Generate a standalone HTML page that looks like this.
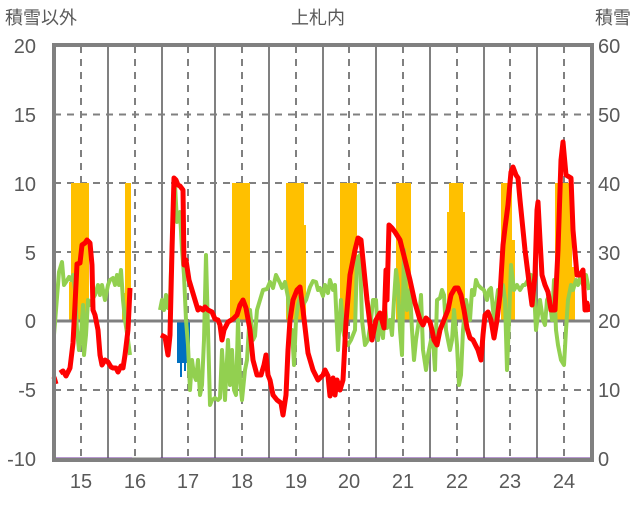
<!DOCTYPE html>
<html><head><meta charset="utf-8"><style>
body{margin:0;background:#fff;width:636px;height:501px;overflow:hidden}
svg text{font-family:"Liberation Sans","Noto Sans CJK JP",sans-serif;fill:#595959}
</style></head><body>
<svg width="636" height="501" xmlns="http://www.w3.org/2000/svg">
<g font-size="18">
<text x="5" y="24">積雪以外</text>
<text x="318" y="24" text-anchor="middle">上札内</text>
<text x="631" y="24" text-anchor="end">積雪</text>
</g>
<g font-size="20" text-anchor="end">
<text x="36" y="53">20</text><text x="36" y="122">15</text><text x="36" y="191">10</text>
<text x="36" y="260">5</text><text x="36" y="328">0</text><text x="36" y="397">-5</text><text x="36" y="466">-10</text>
</g>
<g font-size="20">
<text x="598" y="53">60</text><text x="598" y="122">50</text><text x="598" y="191">40</text>
<text x="598" y="260">30</text><text x="598" y="328">20</text><text x="598" y="397">10</text><text x="598" y="466">0</text>
</g>
<g font-size="20" text-anchor="middle">
<text x="81" y="488">15</text><text x="135" y="488">16</text><text x="188" y="488">17</text><text x="242" y="488">18</text><text x="296" y="488">19</text><text x="349" y="488">20</text><text x="403" y="488">21</text><text x="457" y="488">22</text><text x="510" y="488">23</text><text x="564" y="488">24</text>
</g>
<g stroke="#808080" stroke-width="2" stroke-dasharray="7,6">
<line x1="54" y1="114.5" x2="592" y2="114.5"/><line x1="54" y1="183" x2="592" y2="183"/><line x1="54" y1="252" x2="592" y2="252"/><line x1="54" y1="390" x2="592" y2="390"/>
<line x1="81" y1="46" x2="81" y2="459"/><line x1="135" y1="46" x2="135" y2="459"/><line x1="188" y1="46" x2="188" y2="459"/><line x1="242" y1="46" x2="242" y2="459"/><line x1="296" y1="46" x2="296" y2="459"/><line x1="349" y1="46" x2="349" y2="459"/><line x1="403" y1="46" x2="403" y2="459"/><line x1="457" y1="46" x2="457" y2="459"/><line x1="510" y1="46" x2="510" y2="459"/><line x1="564" y1="46" x2="564" y2="459"/>
</g>
<g stroke="#808080" stroke-width="2">
<line x1="108" y1="46" x2="108" y2="459"/><line x1="162" y1="46" x2="162" y2="459"/><line x1="215" y1="46" x2="215" y2="459"/><line x1="269" y1="46" x2="269" y2="459"/><line x1="323" y1="46" x2="323" y2="459"/><line x1="376" y1="46" x2="376" y2="459"/><line x1="430" y1="46" x2="430" y2="459"/><line x1="484" y1="46" x2="484" y2="459"/><line x1="537" y1="46" x2="537" y2="459"/>
</g>
<g fill="#FFC000">
<rect x="71" y="183" width="18" height="138"/><rect x="69" y="282" width="3" height="39"/>
<rect x="125" y="183" width="6" height="138"/><rect x="122" y="293" width="4" height="28"/>
<rect x="232" y="183" width="18" height="138"/><rect x="230" y="280" width="3" height="41"/>
<rect x="286" y="183" width="18" height="138"/><rect x="303" y="225" width="3" height="96"/>
<rect x="340" y="183" width="17" height="138"/>
<rect x="396" y="183" width="15" height="138"/>
<rect x="449" y="183" width="14" height="138"/><rect x="447" y="212" width="18" height="109"/>
<rect x="501" y="183" width="11" height="138"/><rect x="505" y="240" width="10" height="81"/>
<rect x="555" y="183" width="17" height="138"/><rect x="571" y="267" width="4" height="54"/>
</g>
<g fill="#0070C0">
<rect x="177" y="321" width="13" height="42"/><rect x="180" y="321" width="2" height="56"/><rect x="184" y="321" width="2" height="50"/>
</g>
<line x1="54" y1="321" x2="592" y2="321" stroke="#808080" stroke-width="3"/>
<polyline fill="none" stroke="#92D050" stroke-width="4" stroke-linejoin="round" points="54,335 56,310 59,272 62,262 64,285 66,282 69,277 71,280 73,275 75,290 77,330 79,350 81,335 83,305 84,355 86,335 88,300 90,305 92,300 95,295 98,285 100,295 102,285 105,300 108,285 110,280 113,278 115,285 117,275 119,285 121,270 123,300 125,320 128,340 130,355"/>
<polyline fill="none" stroke="#92D050" stroke-width="4" stroke-linejoin="round" points="160,310 162,300 164,310 166,295 168,308 170,300 172,240 175,185 177,222 180,212 182,250 184,275 186,320 188,345 190,390 192,360 194,375 196,380 198,360 200,395 202,385 204,340 206,255 208,330 210,405 212,400 215,398 218,400 220,398 222,350 225,400 228,340 230,385 232,350 234,390 236,395 238,320 240,380 242,400 245,370 247,360 250,310 253,340 255,336 257,310 260,300 263,290 267,289 270,282 273,288 276,275 280,283 282,288 285,282 288,297 290,340 292,330 294,365 296,320 298,305 300,297 303,305 306,300 310,287 313,281 316,282 318,290 320,288 323,296 325,285 328,293 330,280 333,290 335,285 338,350 341,300 343,330 345,340 348,345 351,340 355,330 357,258 360,255 362,320 365,345 368,340 371,320 373,300 376,300 378,340 380,320 383,338 385,305 387,328 390,320 392,335 394,300 396,270 398,285 400,330 402,355 404,250 407,310 410,290 412,330 414,360 416,340 419,320 421,295 423,350 426,370 428,355 431,340 433,340 435,370 437,300 440,298 442,290 444,295 446,330 448,340 450,350 452,340 454,310 457,345 459,385 461,375 463,330 466,300 468,310 470,320 472,290 474,295 476,280 478,285 481,288 484,290 487,300 489,290 491,288 494,320 496,305 498,290 501,295 503,285 505,300 507,370 509,320 511,265 514,290 517,285 520,290 523,285 525,285 528,280 531,275 534,290 536,330 538,315 540,300 543,320 545,325 547,300 549,296 552,320 554,280 556,330 558,345 561,360 564,365 566,330 568,300 571,285 573,290 576,280 578,285 580,278 583,285 586,275 589,290"/>
<polyline fill="none" stroke="#FF0000" stroke-width="5" stroke-linejoin="round" points="54,377 56,384"/>
<polyline fill="none" stroke="#FF0000" stroke-width="5" stroke-linejoin="round" points="60,373 63,371 66,376 70,368 73,343 75,305 77,264 80,263 82,245 85,243 87,240 90,243 92,265 93,310 95,315 98,330 100,355 102,365 105,360 108,362 111,367 113,368 116,368 118,372 121,366 123,368 125,355 128,330 130,288"/>
<polyline fill="none" stroke="#FF0000" stroke-width="5" stroke-linejoin="round" points="161,335 165,337 168,355 170,335 172,250 174,178 176,180 178,185 180,186 183,190 184,265 186,260 189,280 192,290 195,300 198,310 200,308 203,310 205,307 208,310 212,312 215,319 218,320 220,325 222,340 224,330 228,322 233,319 237,315 240,305 243,300 246,308 250,330 253,360 257,375 261,375 264,365 266,355 268,375 270,380 273,395 277,400 281,403 283,415 286,395 288,350 290,320 293,300 297,290 300,287 303,310 308,353 313,370 318,380 320,378 323,375 325,370 328,376 330,396 333,378 335,395 337,380 340,390 343,380 346,322 350,275 355,250 358,238 361,240 363,260 367,300 372,340 376,320 380,313 384,328 386,270 387,300 389,225 392,228 395,232 400,240 405,260 410,280 415,303 420,320 423,325 426,318 430,322 432,330 434,340 437,345 440,330 444,320 448,310 451,295 455,288 458,288 461,295 464,310 467,328 470,338 473,340 478,350 481,360 483,335 485,315 488,312 491,320 494,338 497,320 500,295 503,245 505,228 508,205 511,172 513,167 516,175 518,178 520,200 525,250 530,290 532,305 535,275 537,210 538,202 540,240 542,275 545,285 548,292 551,310 555,310 558,250 561,160 563,142 566,175 571,178 573,230 577,275 580,275 583,270 585,310 587,303 589,312"/>
<line x1="54" y1="459" x2="132" y2="459" stroke="#7030A0" stroke-width="3"/>
<line x1="132" y1="459" x2="160" y2="459" stroke="#808080" stroke-width="3"/>
<line x1="160" y1="459" x2="592" y2="459" stroke="#7030A0" stroke-width="3"/>
<rect x="54" y="45" width="538" height="415" fill="none" stroke="#808080" stroke-width="4"/>
</svg>
</body></html>
